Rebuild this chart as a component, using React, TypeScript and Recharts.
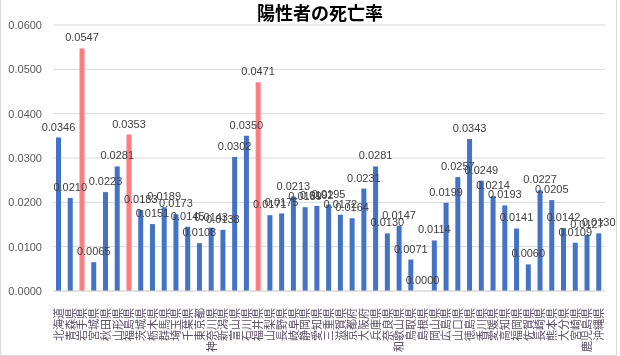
import React from "react";
import { BarChart, Bar, XAxis, YAxis, CartesianGrid, LabelList, Cell } from "recharts";

const prefectures = [
  "北海道", "青森県", "岩手県", "宮城県", "秋田県", "山形県", "福島県", "茨城県", "栃木県", "群馬県",
  "埼玉県", "千葉県", "東京都", "神奈川県", "新潟県", "富山県", "石川県", "福井県", "山梨県", "長野県",
  "岐阜県", "静岡県", "愛知県", "三重県", "滋賀県", "京都府", "大阪府", "兵庫県", "奈良県", "和歌山県",
  "鳥取県", "島根県", "岡山県", "広島県", "山口県", "徳島県", "香川県", "愛媛県", "高知県", "福岡県",
  "佐賀県", "長崎県", "熊本県", "大分県", "宮崎県", "鹿児島県", "沖縄県",
];

const deathRates = [
  0.0346, 0.021, 0.0547, 0.0065, 0.0223, 0.0281, 0.0353, 0.0183, 0.0151, 0.0189,
  0.0173, 0.0145, 0.0108, 0.0143, 0.0138, 0.0302, 0.035, 0.0471, 0.0171, 0.0175,
  0.0213, 0.0189, 0.0192, 0.0195, 0.0172, 0.0164, 0.0231, 0.0281, 0.013, 0.0147,
  0.0071, 0.0, 0.0114, 0.0199, 0.0257, 0.0343, 0.0249, 0.0214, 0.0193, 0.0141,
  0.006, 0.0227, 0.0205, 0.0142, 0.0109, 0.0127, 0.013,
];

const highlighted = ["岩手県", "福島県", "福井県"];

const yTicks = [0, 0.01, 0.02, 0.03, 0.04, 0.05, 0.06];

const data = prefectures.map((name, i) => ({ name, rate: deathRates[i] }));

const FONT = "'Liberation Sans', Arial, sans-serif";

const PrefTick = (props: any) => {
  const { x, y, payload } = props;
  return (
    <text
      x={x}
      y={y + 9}
      transform={`rotate(-90, ${x}, ${y + 9})`}
      textAnchor="end"
      dy="0.36em"
      fontSize={11}
      fill="#5e4f68"
      fontFamily="'Noto Sans CJK JP', sans-serif"
    >
      {payload.value}
    </text>
  );
};

export default function App() {
  return (
    <div style={{ position: "fixed", left: 0, top: 0, width: 620, height: 356, background: "#fff", fontFamily: FONT }}>
      <div
        style={{
          position: "absolute",
          left: 0,
          top: -1,
          width: 615,
          height: 355,
          border: "1px solid #d9d9d9",
        }}
      />
      <div
        style={{
          position: "absolute",
          left: 0,
          top: 0,
          width: 640,
          textAlign: "center",
          fontFamily: "'Noto Sans CJK JP', sans-serif",
          fontWeight: "bold",
          fontSize: 18,
          lineHeight: "24px",
          color: "#000",
        }}
      >
        陽性者の死亡率
      </div>
      <BarChart width={617} height={356} data={data} margin={{ top: 25, right: 12, left: 0, bottom: 5 }}>
        <CartesianGrid vertical={false} stroke="#d9d9d9" />
        <XAxis
          dataKey="name"
          interval={0}
          height={60}
          tickLine={false}
          axisLine={{ stroke: "#d9d9d9" }}
          tick={<PrefTick />}
        />
        <YAxis
          domain={[0, 0.06]}
          ticks={yTicks}
          width={53}
          tickSize={0}
          tickMargin={11}
          axisLine={false}
          tickLine={false}
          tickFormatter={(v: number) => v.toFixed(4)}
          tick={{ fontSize: 11, fill: "#595959", fontFamily: FONT }}
        />
        <Bar dataKey="rate" barSize={5} minPointSize={0.01} isAnimationActive={false}>
          {data.map((d) => (
            <Cell key={d.name} fill={highlighted.includes(d.name) ? "#ff7c80" : "#4472c4"} />
          ))}
          <LabelList
            dataKey="rate"
            position="top"
            offset={7}
            formatter={(v: any) => Number(v).toFixed(4)}
            style={{ fontSize: 11, fill: "#404040", fontFamily: FONT }}
          />
        </Bar>
      </BarChart>
    </div>
  );
}
